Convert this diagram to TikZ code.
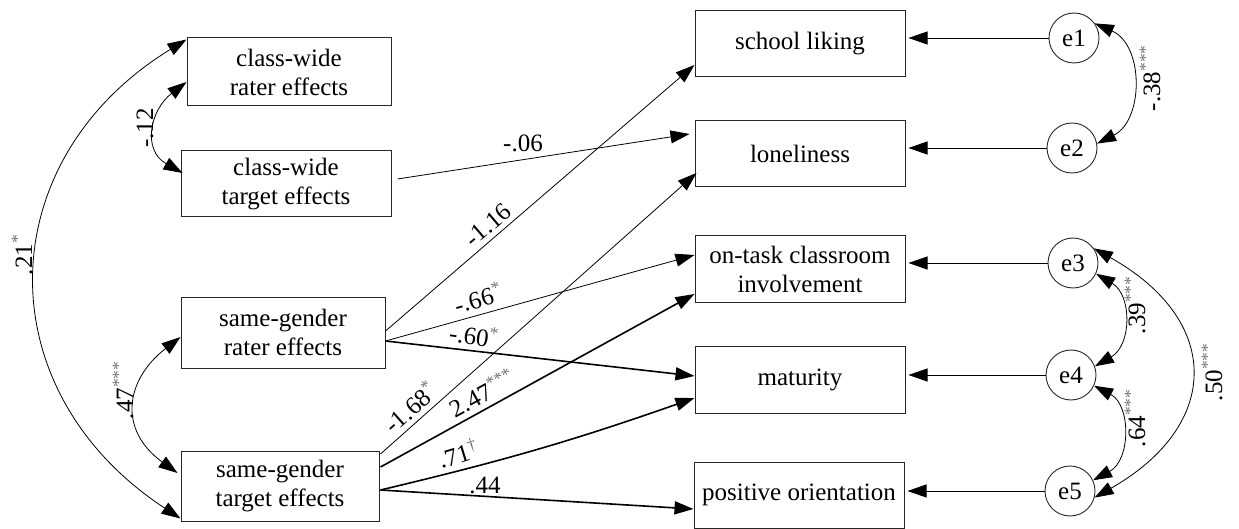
\documentclass[tikz,border=0pt]{standalone}
\usepackage{fontspec}
\setmainfont{Liberation Serif}
\usetikzlibrary{arrows.meta,calc}
\newcommand\lblsize{\fontsize{25}{29}\selectfont}
\newcommand\sig[1]{\textsuperscript{\textcolor{black!55}{#1}}}
\begin{document}
\begin{tikzpicture}[x=1pt,y=-1pt,
  box/.style={draw=black!85,line width=1pt,align=center,inner sep=0pt,font=\lblsize},
  err/.style={circle,draw=black!85,line width=0.9pt,minimum size=50pt,inner sep=0pt,font=\lblsize},
  tip/.style={-{Triangle[length=19pt,width=13pt]}},
  pthin/.style={line width=0.8pt},
  pthick/.style={line width=1.6pt},
  cov/.style={{Triangle[length=19pt,width=13pt]}-{Triangle[length=19pt,width=13pt]},line width=0.8pt},
  lab/.style={font=\lblsize,inner sep=0pt}]
\useasboundingbox (0,0) rectangle (1239,529);
% left boxes
\node[box,minimum width=204pt,minimum height=68pt] (cwr) at (289,72) {class-wide\\rater effects};
\node[box,minimum width=210pt,minimum height=66pt] (cwt) at (286,184) {class-wide\\target effects};
\node[box,minimum width=204pt,minimum height=71pt] (sgr) at (283,332.5) {same-gender\\rater effects};
\node[box,minimum width=198pt,minimum height=70pt] (sgt) at (280,486) {same-gender\\target effects};
% outcome boxes
\node[box,minimum width=210pt,minimum height=66pt] (sl) at (800,44) {school liking};
\node[box,minimum width=210pt,minimum height=66pt] (lo) at (800,154) {loneliness};
\node[box,minimum width=210pt,minimum height=66pt] (ot) at (800,269) {on-task classroom\\involvement};
\node[box,minimum width=210pt,minimum height=67pt] (ma) at (800,379.5) {maturity};
\node[box,minimum width=210pt,minimum height=66pt] (po) at (799,495) {positive orientation};
% error terms
\node[err] (e1) at (1074,38) {e1};
\node[err] (e2) at (1072,148) {e2};
\node[err] (e3) at (1073,263) {e3};
\node[err] (e4) at (1071,375) {e4};
\node[err] (e5) at (1070,491) {e5};
% error arrows
\foreach \e/\b in {e1/sl,e2/lo,e3/ot,e4/ma,e5/po}
  \draw[pthin,tip] (\e.west) -- ([xshift=3pt]\e.west -| \b.east);
% path arrows
\draw[pthin,tip] ([xshift=6pt,yshift=5pt]cwt.east) -- ([xshift=-5pt,yshift=20pt]lo.west);
\draw[pthin,tip] ([yshift=1.5pt]sgr.east) -- ([yshift=-21pt]sl.west);
\draw[pthin,tip] ([yshift=-8.5pt]sgr.east) -- ([yshift=14pt]ot.west);
\draw[pthick,tip] ([yshift=-8.5pt]sgr.east) -- ([yshift=3.5pt]ma.west);
\draw[pthin,tip] ([xshift=1pt,yshift=32pt]sgt.east) -- ([xshift=2pt,yshift=-19pt]lo.west);
\draw[pthick,tip] ([xshift=1pt,yshift=19pt]sgt.east) -- ([yshift=-25pt]ot.west);
\draw[pthick,tip] ([xshift=1pt,yshift=-4pt]sgt.east) to[bend right=3] ([yshift=-18.5pt]ma.west);
\draw[pthick,tip] ([xshift=1pt,yshift=-4pt]sgt.east) -- ([yshift=-14pt]po.west);
% path labels
\node[lab] at (523,143) {-.06};
\node[lab,rotate=40.6] at (488,225) {-1.16};
\node[lab,rotate=15.5] at (478,298) {-.66\sig{*}};
\node[lab,rotate=-8] at (474,335) {-.60\sig{*}};
\node[lab,rotate=41.6] at (410,407) {-1.68\sig{*}};
\node[lab,rotate=28.8] at (482,393) {2.47\sig{***}};
\node[lab,rotate=17] at (458,453) {.71\sig{†}};
\node[lab] at (485,485) {.44};
% left covariances
\draw[cov] ([yshift=-10pt]cwr.west) .. controls (150,110) and (142,150) .. ([xshift=2pt,yshift=11pt]cwt.west);
\draw[cov] ([yshift=-2pt]cwr.north west) .. controls (-10,160) and (-15,390) .. ([yshift=3pt]sgt.south west);
\draw[cov] ([yshift=-4.5pt]sgr.west) .. controls (125,380) and (118,430) .. ([xshift=-3pt,yshift=13pt]sgt.west);
\node[lab,rotate=90] at (145,128) {-.12};
\node[lab,rotate=90] at (22,255) {.21\sig{*}};
\node[lab,rotate=90] at (123,390) {.47\sig{***}};
% right covariances
\draw[cov] (e1.35) .. controls (1144,45) and (1144,120) .. (e2.10);
\draw[cov] (e3.-25) .. controls (1132,295) and (1132,345) .. (e4.20);
\draw[cov] (e4.-25) .. controls (1131,405) and (1131,460) .. (e5.25);
\draw[cov] (e3.35) .. controls (1222,320) and (1222,425) .. (e5.-15);
\node[lab,rotate=90] at (1150,78) {-.38\sig{***}};
\node[lab,rotate=90] at (1135,305) {.39\sig{***}};
\node[lab,rotate=90] at (1135,418) {.64\sig{***}};
\node[lab,rotate=90] at (1212,372) {.50\sig{***}};
\end{tikzpicture}
\end{document}
